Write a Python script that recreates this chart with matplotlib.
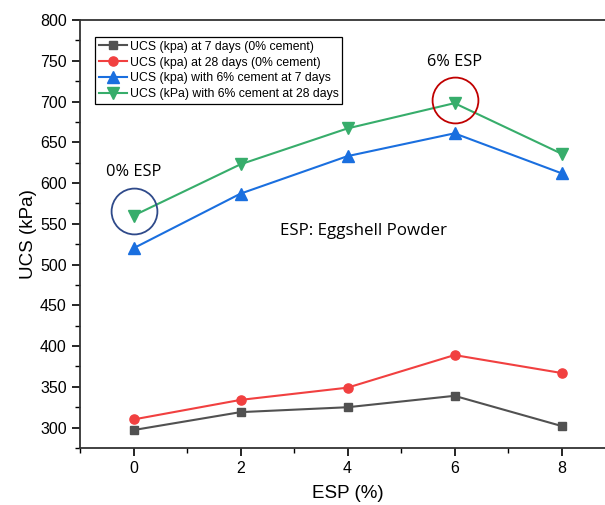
import matplotlib
matplotlib.use("Agg")
import matplotlib.pyplot as plt
from matplotlib.ticker import MultipleLocator

# data
esp = [0, 2, 4, 6, 8]
ucs_7d = [297, 319, 325, 339, 302]
ucs_28d = [310, 334, 349, 389, 367]
ucs_cem_7d = [520, 587, 633, 661, 612]
ucs_cem_28d = [560, 623, 667, 698, 636]

labels = ["UCS (kpa) at 7 days (0% cement)",
          "UCS (kpa) at 28 days (0% cement)",
          "UCS (kpa) with 6% cement at 7 days",
          "UCS (kPa) with 6% cement at 28 days"]

plt.rcParams['font.family'] = ['Liberation Sans', 'DejaVu Sans']
note_font = ['Open Sans', 'DejaVu Sans']

fig = plt.figure(figsize=(6.05, 5.05), dpi=100)
W, H = 605, 505
ax = fig.add_axes([80 / W, 1 - 448 / H, 535 / W, 428 / H])

ax.plot(esp, ucs_7d, color='#515151', marker='s', ms=6.3, lw=1.5, label=labels[0])
ax.plot(esp, ucs_28d, color='#F14040', marker='o', ms=6.6, lw=1.5, label=labels[1])
ax.plot(esp, ucs_cem_7d, color='#1A6FDF', marker='^', ms=8, lw=1.5, label=labels[2])
ax.plot(esp, ucs_cem_28d, color='#37AD6B', marker='v', ms=8, lw=1.5, label=labels[3])

# highlight circles, drawn a little above the marked points
ax.plot(esp[0], ucs_cem_28d[0] + 6, marker='o', ms=33, mfc='none', mec='#2F4A8A', mew=1.3)
ax.plot(esp[3], ucs_cem_28d[3] + 4, marker='o', ms=33, mfc='none', mec='#C00000', mew=1.3)

ax.text(0, 613, "0% ESP", ha='center', va='center', fontsize=11.8, family=note_font)
ax.text(6, 748, "6% ESP", ha='center', va='center', fontsize=11.8, family=note_font)
ax.text(4.3, 541, "ESP: Eggshell Powder", ha='center', va='center', fontsize=12.2,
        family=note_font)

ax.set_xlim(-1, 9)
ax.set_ylim(275, 800)
ax.xaxis.set_major_locator(MultipleLocator(2))
ax.xaxis.set_minor_locator(MultipleLocator(1))
ax.yaxis.set_major_locator(MultipleLocator(50))
ax.yaxis.set_minor_locator(MultipleLocator(25))
ax.tick_params(which='major', direction='out', length=6, width=1.2, labelsize=11.5)
ax.tick_params(which='minor', direction='out', length=3.5, width=1.0)
ax.tick_params(top=False, right=False)
for s in ax.spines.values():
    s.set_linewidth(1.3)
    s.set_color('#333333')

ax.set_xlabel("ESP (%)", fontsize=13.5, labelpad=6)
ax.set_ylabel("UCS (kPa)", fontsize=13.5, labelpad=2)

leg = ax.legend(loc='upper left', bbox_to_anchor=(15 / 535, 1 - 17 / 428), fontsize=8.8,
                frameon=True, fancybox=False, edgecolor='black', framealpha=1,
                handlelength=2.3, handletextpad=0.25, borderpad=0.3, labelspacing=0.32,
                borderaxespad=0)
leg.get_frame().set_linewidth(0.9)

fig.savefig("out.png", dpi=100)
